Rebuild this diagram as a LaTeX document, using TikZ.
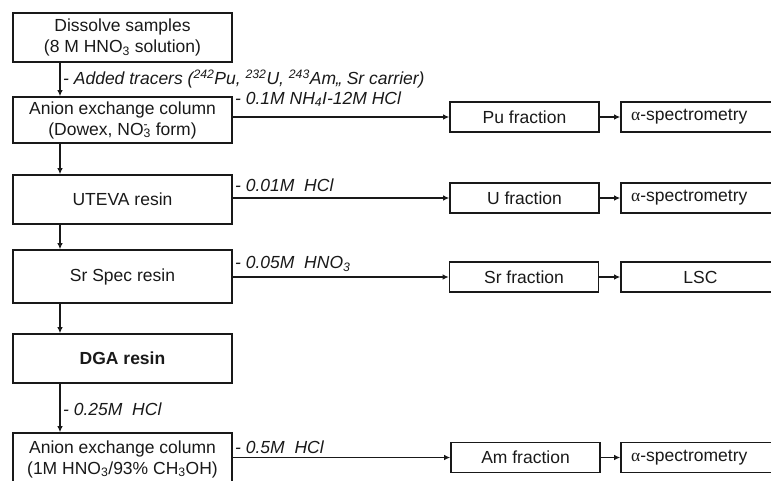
\documentclass[tikz,border=0pt]{standalone}
\usepackage{fontspec}
\setmainfont{Liberation Sans}
\newfontfamily\grk{Liberation Serif}
\usetikzlibrary{arrows.meta}
\newcommand\subx[1]{\textsubscript{#1}}
\newcommand\supx[1]{\textsuperscript{#1}}
\newcommand\alphasp{{\grk α}-spectrometry}
\begin{document}
\begin{tikzpicture}[x=1pt,y=-1pt,
  every node/.style={font=\fontsize{17.5}{21}\selectfont, text=black!90},
  box/.style={draw=black!90, line width=1.6pt, inner sep=0pt, align=center},
  mainbox/.style={box, minimum width=219pt},
  fracbox/.style={box, minimum width=149pt, minimum height=30pt},
  anbox/.style={box, minimum width=159pt, minimum height=30pt},
  lbl/.style={anchor=west, inner sep=0pt, font=\fontsize{17.5}{21}\selectfont\itshape},
  arr/.style={draw=black!90, line width=1.4pt, -{Latex[length=6pt,width=5.5pt]}}]
\useasboundingbox (0,0) rectangle (771,480);
\clip (0,0) rectangle (771,480);
\coordinate (xl) at (60,0);
% main column
\node[mainbox, minimum height=49pt] (A) at (122.5,37.5) {Dissolve samples\\(8 M HNO\subx{3} solution)};
\node[mainbox, minimum height=46pt] (B) at (122.5,120) {Anion exchange column\\(Dowex, NO\rlap{\supx{-}}\subx{3} form)};
\node[mainbox, minimum height=49pt] (C) at (122.5,199.5) {UTEVA resin};
\node[mainbox, minimum height=53pt] (D) at (122.5,276.5) {Sr Spec resin};
\node[mainbox, minimum height=49pt] (E) at (122.5,358.5) {\bfseries DGA resin};
\node[mainbox, minimum height=70pt] (F) at (122.5,468) {};
\node[align=center, inner sep=0pt] (Ft) at (122.5,459) {Anion exchange column\\(1M HNO\subx{3}/93\% CH\subx{3}OH)};
% fractions
\node[fracbox] (Pu) at (524.5,117) {Pu fraction};
\node[fracbox] (U) at (524.5,198) {U fraction};
\node[fracbox] (Sr) at (524,277) {Sr fraction};
\node[fracbox] (Am) at (525.5,457.5) {Am fraction};
% analysis
\node[anbox] (PuA) at (700.5,117) {};
\node[anchor=west, inner sep=0pt] (PuAt) at (631,117) {\alphasp};
\node[anbox] (UA) at (700.5,198) {};
\node[anchor=west, inner sep=0pt] (UAt) at (631,198) {\alphasp};
\node[anbox] (SrA) at (700.5,277) {LSC};
\node[anbox] (AmA) at (700.5,457.5) {};
\node[anchor=west, inner sep=0pt] (AmAt) at (631,457.5) {\alphasp};
% vertical arrows
\draw[arr] (xl |- A.south) -- (xl |- B.north);
\draw[arr] (xl |- B.south) -- (xl |- C.north);
\draw[arr] (xl |- C.south) -- (xl |- D.north);
\draw[arr] (xl |- D.south) -- (xl |- E.north);
\draw[arr] (xl |- E.south) -- (xl |- F.north);
% horizontal arrows
\draw[arr] (B.east |- Pu.west) -- (Pu.west);
\draw[arr] (C.east |- U.west) -- (U.west);
\draw[arr] (D.east |- Sr.west) -- (Sr.west);
\draw[arr] (F.east |- Am.west) -- (Am.west);
\draw[arr] (Pu.east) -- (PuA.west);
\draw[arr] (U.east) -- (UA.west);
\draw[arr] (Sr.east) -- (SrA.west);
\draw[arr] (Am.east) -- (AmA.west);
% labels
\node[lbl] (l1) at (63,79) {- Added tracers (\supx{242}Pu, \supx{232}U, \supx{243}Am,, Sr carrier)};
\node[lbl] (l2) at (235,99) {- 0.1M NH\subx{4}I-12M HCl};
\node[lbl] (l3) at (235,185) {- 0.01M\ \ HCl};
\node[lbl] (l4) at (235,264) {- 0.05M\ \ HNO\subx{3}};
\node[lbl] (l5) at (63,409) {- 0.25M\ \ HCl};
\node[lbl] (l6) at (235,447) {- 0.5M\ \ HCl};
\end{tikzpicture}
\end{document}
